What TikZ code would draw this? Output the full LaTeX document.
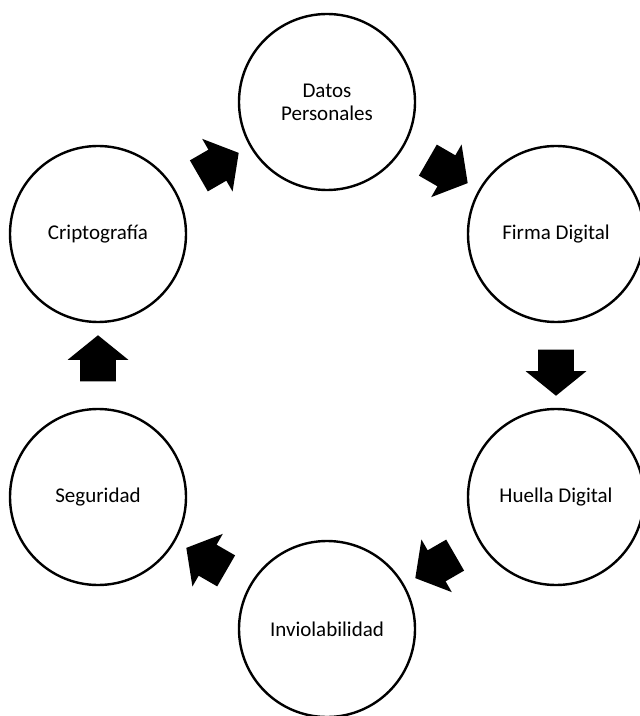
\documentclass[tikz,border=0pt]{standalone}
\usepackage{fontspec}
\setmainfont{Carlito}
\usepackage{tikz}
\usetikzlibrary{shapes,arrows}
\usetikzlibrary{positioning}
\usetikzlibrary{calc}

\begin{document}
\begin{tikzpicture}[auto, on grid,
	etapa/.style={draw, circle, line width=1.2pt, minimum size=88pt, inner sep=0pt,
		align=center, font=\fontsize{10.5}{11.5}\selectfont},
	flecha/.style={single arrow, fill=black, minimum height=23pt,
		single arrow head extend=6.25pt, single arrow tip angle=102,
		inner xsep=0pt, inner ysep=8.75pt}]
	\useasboundingbox (0,0) rectangle (319.5pt,-358pt);
	%% Etapas
	\node [etapa] (DP) at (163.5pt,-51pt) {Datos\\Personales};
	\node [etapa, below right=66pt and 114.5pt of DP] (FD) {Firma Digital};
	\node [etapa, below=131.5pt of FD] (HD) {Huella Digital};
	\node [etapa, below left=66pt and 114.5pt of HD] (IN) {Inviolabilidad};
	\node [etapa, above left=66pt and 114.5pt of IN] (SE) {Seguridad};
	\node [etapa, above=131.5pt of SE] (CR) {Criptografía};
	%% Flechas
	\node [flecha, rotate=30] (F1) at ($(CR)!0.5!(DP)$) {};
	\node [flecha, rotate=-30] (F2) at ($(DP)!0.5!(FD)$) {};
	\node [flecha, rotate=-90] (F3) at ($(FD)!0.5!(HD)$) {};
	\node [flecha, rotate=210] (F4) at ($(HD)!0.5!(IN)$) {};
	\node [flecha, rotate=150] (F5) at ($(IN)!0.5!(SE)$) {};
	\node [flecha, rotate=90] (F6) at ($(SE)!0.5!(CR)$) {};
\end{tikzpicture}
\end{document}
